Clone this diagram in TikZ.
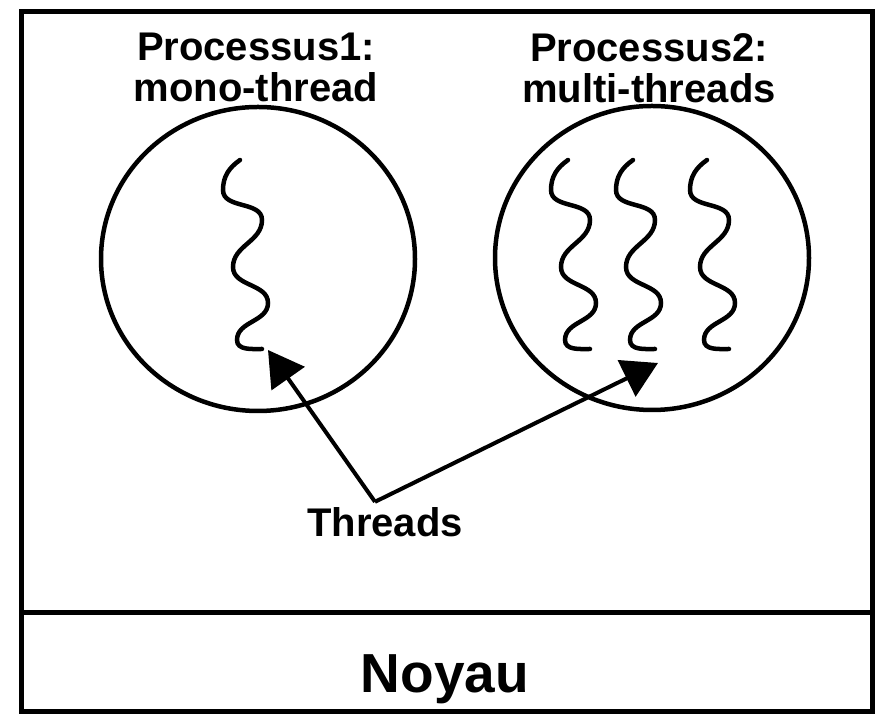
\documentclass[tikz,border=0pt]{standalone}
\usepackage{fontspec}
\setmainfont{Liberation Sans}
\usepackage{tikz}
\usetikzlibrary{arrows.meta, shapes.geometric}

\tikzset{
  frame/.style={line width=5pt},
  proc/.style={draw, ellipse, line width=4.5pt, minimum width=314pt,
    minimum height=304pt, inner sep=0pt},
  title/.style={font=\fontsize{40}{41}\selectfont\bfseries, align=center,
    inner sep=0pt, anchor=north},
  wavy/.style={line width=4.5pt, line cap=round},
  ptr/.style={line width=4pt, -{Triangle[length=35pt,width=40pt]}},
  pics/wave/.style={code={
    \draw[wavy] (0,0) to[out=215,in=90] (-17,-30)
      to[out=270,in=90] (22,-60) to[out=270,in=90] (-7,-107)
      to[out=270,in=90] (28,-143) to[out=270,in=90] (-3,-180)
      to[out=270,in=180] (22,-189);
  }}
}

\begin{document}
\begin{tikzpicture}[x=1pt,y=1pt]
  \useasboundingbox (0,0) rectangle (881,714);

  % outer frame and kernel band
  \draw[frame] (21,2) rectangle (872,702);
  \draw[frame] (21,101) -- (872,101);
  \node[font=\fontsize{55}{60}\selectfont\bfseries, anchor=base] (noyau)
    at (445,21) {Noyau};

  % the two processes
  \node[proc] (p1) at (258,455) {};
  \node[proc] (p2) at (652,456) {};
  \node[title] (t1) at (256,681) {Processus1:\\mono-thread};
  \node[title] (t2) at (649,681) {Processus2:\\multi-threads};

  % threads
  \pic at (240,554) {wave};
  \foreach \x in {568,633,707}
    \pic at (\x,554) {wave};

  \node[font=\fontsize{40}{41}\selectfont\bfseries, inner sep=6pt,
    anchor=base] (threads) at (385,177) {Threads};
  \coordinate (tip1) at (268,364);
  \coordinate (tip2) at (658,351);
  \draw[ptr] ([xshift=-10pt]threads.north) -- (tip1);
  \draw[ptr] ([xshift=-10pt]threads.north) -- (tip2);
\end{tikzpicture}
\end{document}
